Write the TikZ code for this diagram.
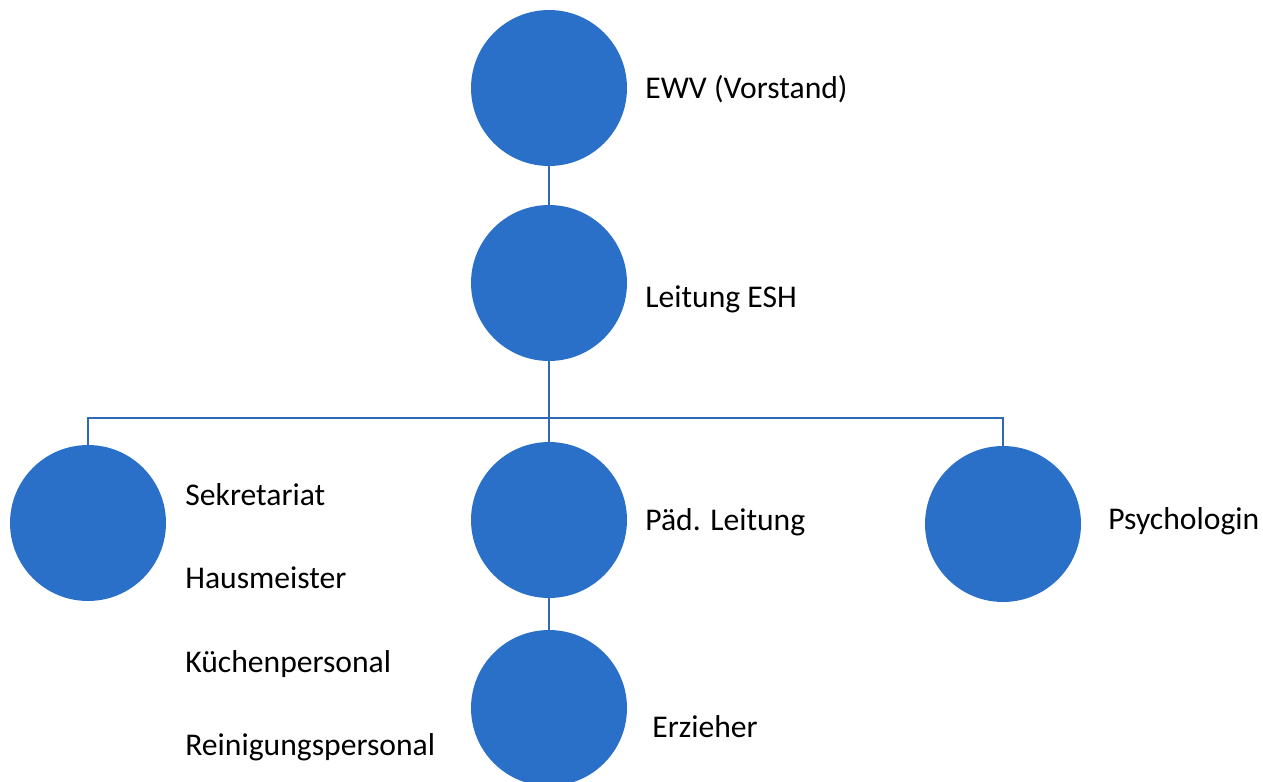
\documentclass[tikz,border=0pt]{standalone}
\usepackage{fontspec}
\setmainfont{Carlito}
\usetikzlibrary{positioning}
\definecolor{orgblue}{RGB}{42,112,200}
\definecolor{orgline}{RGB}{46,104,182}

\begin{document}
\begin{tikzpicture}[
   x=0.02cm, y=-0.02cm,
   unit/.style={circle, fill=orgblue, minimum size=3.12cm, inner sep=0pt},
   conn/.style={draw=orgline, line width=1.1pt},
   lab/.style={anchor=base west, inner sep=0pt, font=\fontsize{18}{21}\selectfont}
]
\useasboundingbox (0,0) rectangle (1263,781);
\clip (0,0) rectangle (1263,781);

\node[unit] (ewv) at (549,88) {};
\node[unit] (esh) at (549,283) {};
\node[unit] (sek) at (88,523) {};
\node[unit] (paed) at (549,520) {};
\node[unit] (psy) at (1003,524) {};
\node[unit] (erz) at (549,708) {};
\coordinate (bus) at (549,418);

\node[lab] (tewv) at (645,98) {EWV (Vorstand)};
\node[lab] (tesh) at (645,307) {Leitung ESH};
\node[lab] (tsek) at (185,505) {Sekretariat};
\node[lab] (thaus) at (185,588) {Hausmeister};
\node[lab] (tkue) at (185,672) {Küchenpersonal};
\node[lab] (trein) at (185,755) {Reinigungspersonal};
\node[lab] (tpaed) at (645,530) {Päd. Leitung};
\node[lab] (tpsy) at (1108,529) {Psychologin};
\node[lab] (terz) at (652,737) {Erzieher};

\draw[conn] (ewv) -- (esh);
\draw[conn] (esh) -- (bus);
\draw[conn] (sek) |- (bus) -| (psy);
\draw[conn] (bus) -- (paed);
\draw[conn] (paed) -- (erz);
\end{tikzpicture}
\end{document}
